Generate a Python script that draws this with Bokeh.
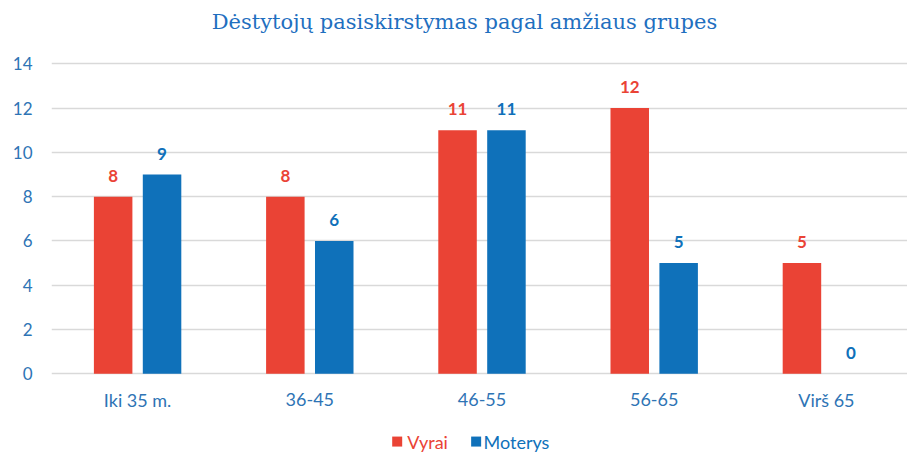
from bokeh.plotting import figure
from bokeh.models import Range1d, FixedTicker, Label, ColumnDataSource
from bokeh.core.properties import value
from bokeh.embed import file_html
from bokeh.resources import INLINE

# ---- data ----
categories = ["Iki 35 m.", "36-45", "46-55", "56-65", "Virš 65"]
vyrai = [8, 8, 11, 12, 5]
moterys = [9, 6, 11, 5, 0]
series_names = ["Vyrai", "Moterys"]
y_ticks = [0, 2, 4, 6, 8, 10, 12, 14]
title_text = "Dėstytojų pasiskirstymas pagal amžiaus grupes"

RED = "#EA4335"
BLUE = "#0F71BA"
AXIS_BLUE = "#2E74B5"
TITLE_BLUE = "#1F6FBF"

centers = [i + 0.5 for i in range(len(categories))]
off = 0.142
bw = 0.2236

p = figure(width=907, height=454, output_backend="svg", toolbar_location=None,
           x_range=Range1d(0, 4.971), y_range=Range1d(-3.644, 16.859),
           x_axis_location=None,
           min_border_left=51, min_border_right=0, min_border_top=0, min_border_bottom=0)
p.outline_line_color = None
p.background_fill_color = "white"
p.border_fill_color = "white"

src = ColumnDataSource(dict(
    xc=centers, cat=categories,
    xr=[c - off for c in centers], xb=[c + off for c in centers],
    vyrai=vyrai, moterys=moterys,
    lv=[str(v) for v in vyrai], lm=[str(v) for v in moterys],
    zero=[0] * len(categories)))

p.vbar(x="xr", top="vyrai", width=bw, source=src, fill_color=RED, line_color=None)
p.vbar(x="xb", top="moterys", width=bw, source=src, fill_color=BLUE, line_color=None)

p.text(x="xr", y="vyrai", text="lv", source=src, text_color=RED,
       text_font=value("Lato"), text_font_style="bold", text_font_size="17px",
       text_align="center", text_baseline="middle", y_offset=-21)
p.text(x="xb", y="moterys", text="lm", source=src, text_color=BLUE,
       text_font=value("Lato"), text_font_style="bold", text_font_size="17px",
       text_align="center", text_baseline="middle", y_offset=-21)

# category labels (x axis)
p.text(x="xc", y="zero", text="cat", source=src, text_color=AXIS_BLUE,
       text_font=value("Lato"), text_font_size="18px",
       text_align="center", text_baseline="middle", y_offset=26)

# y axis
p.yaxis.ticker = FixedTicker(ticks=y_ticks)
ax = p.yaxis[0]
ax.axis_line_color = None
ax.major_tick_line_color = None
ax.minor_tick_line_color = None
ax.major_tick_out = 0
ax.major_tick_in = 0
ax.major_label_text_color = AXIS_BLUE
ax.major_label_text_font = "Lato"
ax.major_label_text_font_size = "17px"
ax.major_label_standoff = 19

p.xgrid.grid_line_color = None
p.ygrid.grid_line_color = "#D9D9D9"
p.ygrid.grid_line_width = 1.5

# title
p.add_layout(Label(x=2.398, y=15.91, text=title_text, text_align="center",
                   text_baseline="middle", text_font="DejaVu Serif",
                   text_font_size="21px", text_color=TITLE_BLUE))

# legend
ly = -3.06
p.scatter(x=[2.0075], y=[ly], marker="square", size=10, fill_color=RED, line_color=None)
p.scatter(x=[2.466], y=[ly], marker="square", size=10, fill_color=BLUE, line_color=None)
p.add_layout(Label(x=2.0656, y=ly, text=series_names[0], text_align="left",
                   text_baseline="middle", text_font="Lato", text_font_size="18px",
                   text_color=RED))
p.add_layout(Label(x=2.5087, y=ly, text=series_names[1], text_align="left",
                   text_baseline="middle", text_font="Lato", text_font_size="18px",
                   text_color=BLUE))

open("out.html", "w").write(file_html(p, INLINE))
